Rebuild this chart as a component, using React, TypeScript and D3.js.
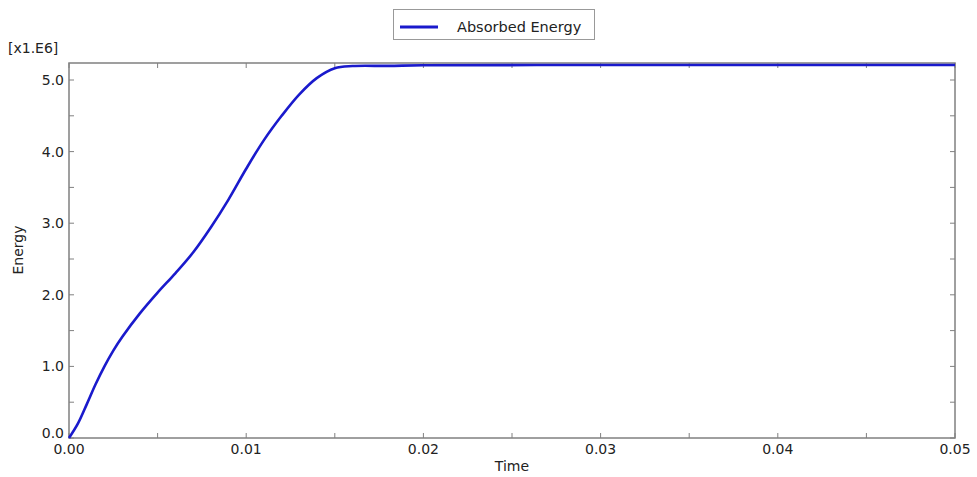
import React from "react";
import * as d3 from "d3";

const times = [0, 0.0005, 0.001, 0.0015, 0.002, 0.0025, 0.003, 0.004, 0.005, 0.006, 0.007, 0.008, 0.009, 0.010, 0.011, 0.012, 0.013, 0.014, 0.015, 0.016, 0.018, 0.020, 0.030, 0.040, 0.050];
const energy = [0, 0.2, 0.47, 0.75, 1.0, 1.22, 1.41, 1.74, 2.03, 2.3, 2.59, 2.94, 3.33, 3.76, 4.16, 4.5, 4.8, 5.03, 5.165, 5.195, 5.197, 5.205, 5.21, 5.21, 5.21];
const xTickLabels = ["0.00", "0.01", "0.02", "0.03", "0.04", "0.05"];
const yTickLabels = ["0.0", "1.0", "2.0", "3.0", "4.0", "5.0"];
const seriesName = "Absorbed Energy";

const W = 977, H = 477;
const left = 69, right = 955, top = 63, bottom = 438;
const font = "'DejaVu Sans', Verdana, sans-serif";

export default function App() {
  const x = d3.scaleLinear().domain([0, 0.05]).range([left, right]);
  const y = d3.scaleLinear().domain([0, 5]).range([bottom, 80]);
  const line = d3.line<number>().x((_, i) => x(times[i])).y((d) => y(d)).curve(d3.curveCatmullRom.alpha(0.5));
  const xMinor = d3.range(0, 0.0501, 0.005);
  const yMinor = d3.range(0, 5.01, 0.5);
  const axisColor = "#808080";
  const tl = 5;
  return (
    <svg width={W} height={H} style={{ position: "absolute", left: 0, top: 0, background: "#fff" }} fontFamily={font}>
      <rect x={0} y={0} width={W} height={H} fill="#fff" />
      {/* legend */}
      <rect x={393.5} y={9.5} width={201} height={30} fill="#fff" stroke="#999" strokeWidth={1} />
      <line x1={400} x2={438} y1={27} y2={27} stroke="#1a1acc" strokeWidth={3} />
      <text x={457} y={32} fontSize={14.5} fill="#222">{seriesName}</text>
      {/* ticks */}
      {xMinor.map((t, i) => (
        <g key={"xt" + i}>
          <line x1={x(t)} x2={x(t)} y1={bottom} y2={bottom - tl} stroke={axisColor} strokeWidth={1} />
          <line x1={x(t)} x2={x(t)} y1={top} y2={top + tl} stroke={axisColor} strokeWidth={1} />
        </g>
      ))}
      {yMinor.map((v, i) => (
        <g key={"yt" + i}>
          <line x1={left} x2={left + tl} y1={y(v)} y2={y(v)} stroke={axisColor} strokeWidth={1} />
          <line x1={right} x2={right - tl} y1={y(v)} y2={y(v)} stroke={axisColor} strokeWidth={1} />
        </g>
      ))}
      {/* frame */}
      <rect x={left} y={top} width={right - left} height={bottom - top} fill="none" stroke={axisColor} strokeWidth={1.5} />
      {/* curve */}
      <path d={line(energy) || ""} fill="none" stroke="#1a1acc" strokeWidth={2.6} />
      {/* tick labels */}
      {yTickLabels.map((s, i) => (
        <text key={"yl" + i} x={64} y={i === 0 ? y(+s) : y(+s) + 5} textAnchor="end" fontSize={14} fill="#222">{s}</text>
      ))}
      {xTickLabels.map((s, i) => (
        <text key={"xl" + i} x={x(+s)} y={454} textAnchor="middle" fontSize={14} fill="#222">{s}</text>
      ))}
      <text x={8} y={53} fontSize={14} fill="#222">[x1.E6]</text>
      <text x={512} y={471} textAnchor="middle" fontSize={14} fill="#222">Time</text>
      <text transform="translate(23,250) rotate(-90)" textAnchor="middle" fontSize={14} fill="#222">Energy</text>
    </svg>
  );
}
